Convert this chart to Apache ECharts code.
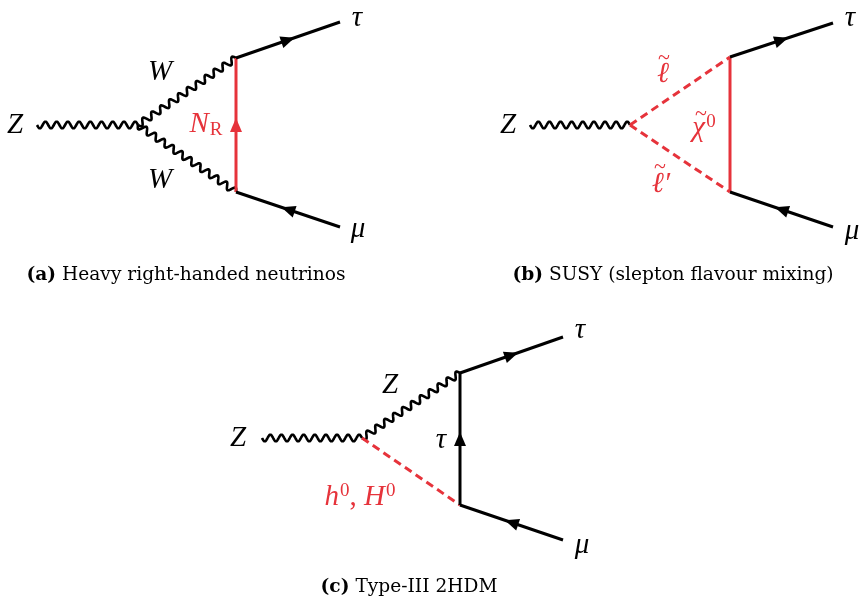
<!DOCTYPE html>
<html><head><meta charset="utf-8">
<script src="https://cdn.jsdelivr.net/npm/echarts@6/dist/echarts.min.js"></script>
<style>html,body{margin:0;padding:0;background:#fff}#c{width:861px;height:600px}</style>
</head><body><div id="c"></div>
<script>
// Diagram geometry (data): segments [x1, y1, x2, y2], ordered along fermion flow
const fermionsBlack = [
  [236, 58, 340, 22], [340, 227, 236, 192],          // (a) tau out, mu in
  [730, 57, 833, 23], [833, 227, 730, 192],          // (b)
  [460, 373, 563, 337], [563, 540, 460, 505],        // (c)
  [460, 505, 460, 373]                               // (c) internal tau
];
const fermionsRed = [[236, 192, 236, 58]];           // (a) N_R
const plainRed = [[730, 192, 730, 57]];              // (b) neutralino
const bosonsWavy = [
  [37, 125, 138, 125], [138, 125, 236, 58], [138, 125, 236, 192], // (a)
  [530, 125, 630, 125],                                           // (b)
  [262, 438, 362, 438], [362, 438, 460, 373]                       // (c)
];
const scalarsDashed = [[630, 125, 730, 57], [630, 125, 730, 192], [362, 438, 460, 505]];

// Labels: [x, y, text]
const labelsBlack = [
  [15, 125, 'Z'], [160, 72, 'W'], [160, 180, 'W'], [357, 18, 'τ'], [358, 229, 'μ'],
  [508, 125, 'Z'], [850, 18, 'τ'], [852, 231, 'μ'],
  [238, 438, 'Z'], [390, 385, 'Z'], [441, 440, 'τ'], [580, 330, 'τ'], [582, 545, 'μ']
];
const labelsRed = [
  [206, 124, '{i|N}{sub|R}'],
  [663, 74, '{i|ℓ}'], [661, 184, '{i|ℓ′}'], [704, 128, '{i|χ}{sup|0}'],
  [360, 497, '{i|h}{sup|0}{n|, }{i|H}{sup|0}']
];
// tilde accents over slepton / neutralino symbols: [x, y]
const tildesRed = [[664, 58], [660, 167], [701, 114]];
const captions = [
  [186, 275, '{b|(a)} Heavy right-handed neutrinos'],
  [673, 275, '{b|(b)} SUSY (slepton flavour mixing)'],
  [409, 587, '{b|(c)} Type-III 2HDM']
];

const RED = '#e6333b', BLACK = '#000';
const SERIF = '"Liberation Serif", "DejaVu Serif", serif';
const CAPFONT = '"DejaVu Serif", serif';

function ends(api) {
  return [api.coord([api.value(0), api.value(1)]), api.coord([api.value(2), api.value(3)])];
}
function straight(color, dash, arrow) {
  return function (params, api) {
    const [p1, p2] = ends(api);
    const children = [{
      type: 'line', shape: { x1: p1[0], y1: p1[1], x2: p2[0], y2: p2[1] },
      style: { stroke: color, lineWidth: 3, lineDash: dash || null, lineCap: 'butt' }
    }];
    if (arrow) {
      const dx = p2[0] - p1[0], dy = p2[1] - p1[1], L = Math.hypot(dx, dy);
      const ux = dx / L, uy = dy / L, nx = -uy, ny = ux;
      const mx = (p1[0] + p2[0]) / 2, my = (p1[1] + p2[1]) / 2;
      const h = 7, w = 6;
      children.push({
        type: 'polygon',
        shape: { points: [[mx + ux * h, my + uy * h], [mx - ux * h + nx * w, my - uy * h + ny * w], [mx - ux * h - nx * w, my - uy * h - ny * w]] },
        style: { fill: color }
      });
    }
    return { type: 'group', children };
  };
}
function wavy(params, api) {
  const [p1, p2] = ends(api);
  const dx = p2[0] - p1[0], dy = p2[1] - p1[1], L = Math.hypot(dx, dy);
  const nx = -dy / L, ny = dx / L;
  const periods = Math.max(1, Math.round(L / 11));
  const N = periods * 20, pts = [];
  for (let i = 0; i <= N; i++) {
    const s = i / N, a = 3.3 * Math.sin(2 * Math.PI * periods * s);
    pts.push([p1[0] + dx * s + nx * a, p1[1] + dy * s + ny * a]);
  }
  return { type: 'polyline', shape: { points: pts }, style: { stroke: BLACK, lineWidth: 2.6, fill: null, lineJoin: 'round' } };
}
function labelRender(list, color) {
  return function (params, api) {
    const p = api.coord([api.value(0), api.value(1)]);
    return {
      type: 'text', x: p[0], y: p[1],
      style: {
        text: list[params.dataIndex][2], fill: color, align: 'center', verticalAlign: 'middle',
        font: 'italic 29px ' + SERIF,
        rich: {
          i: { fontStyle: 'italic', fontSize: 29, fontFamily: SERIF, fill: color, lineHeight: 31 },
          n: { fontSize: 29, fontFamily: SERIF, fill: color, lineHeight: 31 },
          sup: { fontSize: 19, fontFamily: SERIF, fill: color, verticalAlign: 'top', padding: [0, 0, 0, 1] },
          sub: { fontSize: 19, fontFamily: SERIF, fill: color, verticalAlign: 'bottom', padding: [0, 0, 0, 1] }
        }
      }
    };
  };
}
function tildeRender(params, api) {
  const p = api.coord([api.value(0), api.value(1)]);
  return {
    type: 'text', x: p[0], y: p[1],
    style: { text: '~', fill: RED, align: 'center', verticalAlign: 'middle', font: '22px ' + SERIF }
  };
}
function captionRender(params, api) {
  const p = api.coord([api.value(0), api.value(1)]);
  return {
    type: 'text', x: p[0], y: p[1],
    style: {
      text: captions[params.dataIndex][2], fill: BLACK, align: 'center', verticalAlign: 'middle',
      font: '18.6px ' + CAPFONT,
      rich: { b: { fontWeight: 'bold', fontSize: 18.6, fontFamily: CAPFONT, fill: BLACK } }
    }
  };
}
const xy = a => a.map(r => [r[0], r[1], r[2], r[3]]);
const chart = echarts.init(document.getElementById('c'), null, { renderer: 'canvas' });
chart.setOption({
  animation: false,
  backgroundColor: '#fff',
  grid: { left: 0, right: 0, top: 0, bottom: 0 },
  xAxis: { type: 'value', min: 0, max: 861, show: false },
  yAxis: { type: 'value', min: 0, max: 600, inverse: true, show: false },
  series: [
    { type: 'custom', renderItem: wavy, data: xy(bosonsWavy) },
    { type: 'custom', renderItem: straight(RED, [8, 5], false), data: xy(scalarsDashed) },
    { type: 'custom', renderItem: straight(RED, null, false), data: xy(plainRed) },
    { type: 'custom', renderItem: straight(RED, null, true), data: xy(fermionsRed) },
    { type: 'custom', renderItem: straight(BLACK, null, true), data: xy(fermionsBlack) },
    { type: 'custom', renderItem: labelRender(labelsBlack, BLACK), data: labelsBlack.map(r => [r[0], r[1]]) },
    { type: 'custom', renderItem: labelRender(labelsRed, RED), data: labelsRed.map(r => [r[0], r[1]]) },
    { type: 'custom', renderItem: tildeRender, data: tildesRed },
    { type: 'custom', renderItem: captionRender, data: captions.map(r => [r[0], r[1]]) }
  ]
});
</script></body></html>
